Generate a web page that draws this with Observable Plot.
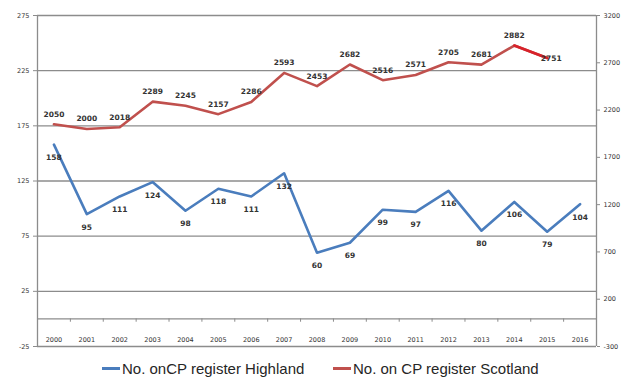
<!DOCTYPE html>
<html>
<head>
<meta charset="utf-8">
<script src="https://cdn.jsdelivr.net/npm/d3@7"></script>
<script src="https://cdn.jsdelivr.net/npm/@observablehq/plot@0.6"></script>
<style>
  html, body { margin: 0; padding: 0; background: #fff; }
  #chart { position: relative; width: 629px; height: 378px; }
  #legend {
    position: absolute; left: 0; top: 360px; width: 629px;
    font-family: "Liberation Sans", Arial, sans-serif; font-size: 15px; color: #262626;
  }
  .item { position: absolute; display: flex; align-items: center; white-space: nowrap; }
  .swatch { display: inline-block; width: 18px; height: 2.5px; margin-right: 2px; }
</style>
</head>
<body>
<div id="chart"></div>
<script>
// Children on the child protection register, 2000–2016
const years = [2000, 2001, 2002, 2003, 2004, 2005, 2006, 2007, 2008, 2009, 2010, 2011, 2012, 2013, 2014, 2015, 2016];
const highland = [158, 95, 111, 124, 98, 118, 111, 132, 60, 69, 99, 97, 116, 80, 106, 79, 104];
const scotlandYears = [2000, 2001, 2002, 2003, 2004, 2005, 2006, 2007, 2008, 2009, 2010, 2011, 2012, 2013, 2014, 2015];
const scotland = [2050, 2000, 2018, 2289, 2245, 2157, 2286, 2593, 2453, 2682, 2516, 2571, 2705, 2681, 2882, 2751];

const leftTicks = [275, 225, 175, 125, 75, 25, -25];
const rightTicks = [3200, 2700, 2200, 1700, 1200, 700, 200, -300];
const seriesNames = ["No. onCP register Highland", "No. on CP register Scotland"];
const colors = ["#4a7dbd", "#c0504d"];

// Scotland is read on the right-hand axis (-300..3200), mapped onto the left scale (-25..275)
const leftMin = -25, leftMax = 275, rightMin = -300, rightMax = 3200;
const toLeft = v => leftMin + (v - rightMin) * (leftMax - leftMin) / (rightMax - rightMin);
const toRight = v => String(Math.round(rightMin + (v - leftMin) * (rightMax - rightMin) / (leftMax - leftMin)));

const hl = years.map((year, i) => ({year, value: highland[i]}));
const sc = scotlandYears.map((year, i) => ({year, value: scotland[i], y: toLeft(scotland[i])}));
const bounds = years.map(y => y + 0.5);

const grid = "#8c8c8c";
const fontAxis = "DejaVu Sans, sans-serif";

const plot = Plot.plot({
  width: 629,
  height: 350,
  marginTop: 15,
  marginBottom: 4,
  marginLeft: 37,
  marginRight: 33,
  x: {type: "linear", domain: [1999.5, 2016.5]},
  y: {domain: [leftMin, leftMax]},
  style: {background: "#fff", fontFamily: fontAxis},
  marks: [
    Plot.ruleY(leftTicks, {stroke: grid, strokeWidth: 1.3}),
    Plot.ruleY([0], {stroke: grid, strokeWidth: 1.3}),
    Plot.ruleX([1999.5, 2016.5], {stroke: grid, strokeWidth: 1.3}),
    Plot.ruleX(bounds, {y1: 0, y2: -3, stroke: grid, strokeWidth: 1}),
    Plot.axisY({anchor: "left", label: null, ticks: leftTicks, tickFormat: d => String(d), tickSize: 4, tickPadding: 4, fontSize: 6.5, color: "#333", stroke: grid}),
    Plot.axisY({anchor: "right", label: null, ticks: rightTicks.map(toLeft), tickFormat: toRight, tickSize: 3, tickPadding: 4, fontSize: 6.5, color: "#333", stroke: grid}),
    Plot.axisX({anchor: "bottom", label: null, ticks: years, tickFormat: d => String(d), tickSize: 0, dy: -18, fontSize: 6.5, color: "#333"}),
    Plot.line(hl, {x: "year", y: "value", stroke: colors[0], strokeWidth: 2.6}),
    Plot.line(sc, {x: "year", y: "y", stroke: colors[1], strokeWidth: 2.6}),
    Plot.line(sc.slice(-2), {x: "year", y: "y", stroke: "#d8222a", strokeWidth: 2.6}),
    Plot.text(hl, {x: "year", y: "value", text: d => String(d.value), dy: 13, fontSize: 7.5, fontWeight: "bold", fill: "#333"}),
    Plot.text(sc.slice(0, -1), {x: "year", y: "y", text: d => String(d.value), dy: -10, fontSize: 7.5, fontWeight: "bold", fill: "#333"}),
    Plot.text(sc.slice(-1), {x: "year", y: "y", text: d => String(d.value), dx: 4, dy: 1, fontSize: 7.5, fontWeight: "bold", fill: "#333"})
  ]
});

const chart = document.getElementById("chart");
chart.appendChild(plot);

const legend = document.createElement("div");
legend.id = "legend";
const lefts = [102, 333];
seriesNames.forEach((name, i) => {
  const item = document.createElement("div");
  item.className = "item";
  item.style.left = lefts[i] + "px";
  const sw = document.createElement("span");
  sw.className = "swatch";
  sw.style.background = colors[i];
  item.appendChild(sw);
  item.appendChild(document.createTextNode(name));
  legend.appendChild(item);
});
chart.appendChild(legend);
</script>
</body>
</html>
